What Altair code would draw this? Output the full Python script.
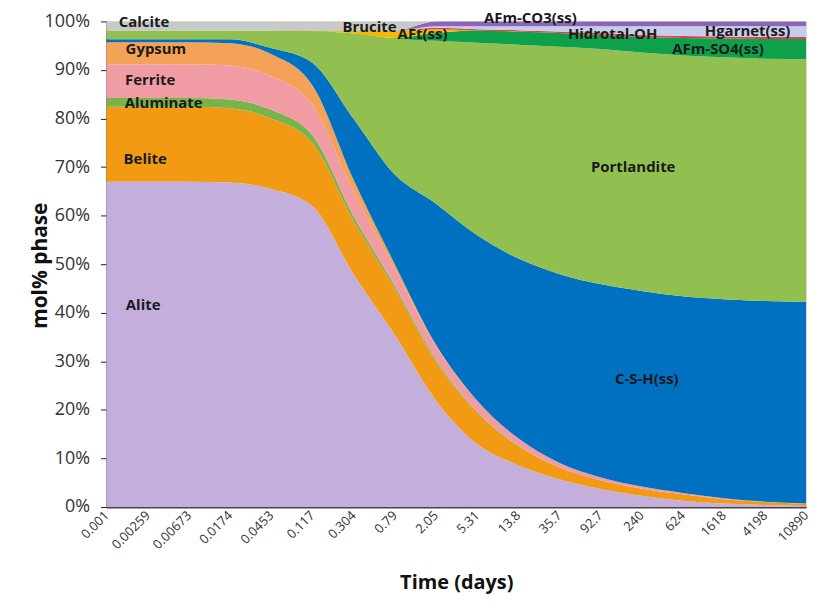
import altair as alt
import pandas as pd

times = ["0.001", "0.00259", "0.00673", "0.0174", "0.0453", "0.117", "0.304", "0.79", "2.05",
         "5.31", "13.8", "35.7", "92.7", "240", "624", "1618", "4198", "10890"]

# stacking order: bottom -> top
phases = ["Alite", "Belite", "Aluminate", "Ferrite", "Gypsum", "C-S-H(ss)", "Portlandite",
          "AFm-SO4(ss)", "AFt(ss)", "Hidrotal-OH", "Hgarnet(ss)", "Brucite", "AFm-CO3(ss)", "Calcite"]

alite = [67, 67, 67, 66.8, 65.5, 62, 48, 35.5, 22, 13, 8.6, 5.7, 3.7, 2.3, 1.3, 0.7, 0.4, 0.2]
belite = [15.4, 15.4, 15.4, 15.3, 14.5, 13, 11, 9.5, 8, 6.5, 4, 2.5, 1.8, 1.5, 1.3, 0.9, 0.6, 0.4]
aluminate = [1.8, 1.8, 1.8, 1.8, 1.8, 1.6, 1.0, 0.6, 0.4, 0.2, 0.1, 0, 0, 0, 0, 0, 0, 0]
ferrite = [7, 7, 7, 7, 6.9, 6.3, 5, 3.5, 2.8, 2.3, 1.5, 0.9, 0.6, 0.4, 0.3, 0.2, 0.1, 0.1]
gypsum = [4.5, 4.5, 4.5, 4.6, 4.6, 4.0, 2.5, 1.0, 0.3, 0, 0, 0, 0, 0, 0, 0, 0, 0]
csh = [0.6, 0.6, 0.6, 0.8, 1.2, 4.6, 12.5, 18.4, 29.0, 34.0, 37.0, 38.9, 39.8, 40.3, 40.5, 41.0, 41.3, 41.5]
portlandite = [1.8, 1.8, 1.8, 1.8, 3.6, 6.5, 17.5, 28.0, 33.5, 39.6, 44.0, 46.8, 48.4, 49.1, 49.6, 49.8, 49.9, 50.0]
afm_so4 = [0, 0, 0, 0, 0, 0, 0, 0.1, 1.6, 2.5, 2.7, 2.8, 2.9, 3.2, 3.6, 3.9, 4.1, 4.2]
aft = [0, 0, 0, 0, 0, 0, 0.4, 1.3, 0.8, 0, 0, 0, 0, 0, 0, 0, 0, 0]
hidrotal = [0, 0, 0, 0, 0, 0, 0, 0, 0.3, 0.3, 0.3, 0.3, 0.4, 0.4, 0.4, 0.4, 0.4, 0.4]
hgarnet = [0, 0, 0, 0, 0, 0, 0, 0, 0.3, 0.6, 0.8, 1.1, 1.4, 1.8, 2.0, 2.1, 2.2, 2.2]
brucite = [0, 0, 0, 0, 0, 0.1, 0.2, 0.2, 0, 0, 0, 0, 0, 0, 0, 0, 0, 0]
afm_co3 = [0, 0, 0, 0, 0, 0, 0, 0, 1.0, 1.0, 1.0, 1.0, 1.0, 1.0, 1.0, 1.0, 1.0, 1.0]
calcite = [1.9, 1.9, 1.9, 1.9, 1.9, 1.9, 1.9, 1.9, 0, 0, 0, 0, 0, 0, 0, 0, 0, 0]

series = [alite, belite, aluminate, ferrite, gypsum, csh, portlandite, afm_so4, aft,
          hidrotal, hgarnet, brucite, afm_co3, calcite]

colors = ["#C4AFDC", "#F29A14", "#79B44A", "#F19CA5", "#F4A257", "#0070C0", "#92C050",
          "#0FA04C", "#F5B800", "#E2414C", "#C6CDEA", "#A3A032", "#8E66B6", "#C9C9C9"]

# text labels
lab_text = ["Calcite", "Gypsum", "Ferrite", "Aluminate", "Belite", "Alite", "Brucite", "AFt(ss)",
            "AFm-CO3(ss)", "Hidrotal-OH", "Hgarnet(ss)", "AFm-SO4(ss)", "Portlandite", "C-S-H(ss)"]
lab_x = [0.91, 1.2, 1.06, 1.39, 0.94, 0.89, 6.39, 7.68, 10.3, 12.3, 15.58, 14.86, 12.8, 13.13]
lab_y = [0.998, 0.943, 0.879, 0.832, 0.717, 0.416, 0.988, 0.975, 1.006, 0.973, 0.98, 0.943, 0.701, 0.264]

rows = []
for k, (name, vals) in enumerate(zip(phases, series)):
    for i, v in enumerate(vals):
        rows.append({"phase": name, "ord": k, "t": i, "v": v})
df = pd.DataFrame(rows)

labels_df = pd.DataFrame({"label": lab_text, "lx": lab_x, "ly": lab_y})

arr = "[" + ",".join("'" + t + "'" for t in times) + "]"

xscale = alt.Scale(domain=[0, len(times) - 1], nice=False, zero=False)
yscale = alt.Scale(domain=[0, 1], nice=False)

area = alt.Chart(df).mark_area(interpolate="monotone").encode(
    x=alt.X("t:Q", scale=xscale,
            axis=alt.Axis(values=list(range(len(times))), labelExpr=arr + "[datum.value]",
                          labelAngle=315, labelAlign="right", labelBaseline="middle",
                          labelFont="Open Sans", labelFontSize=13, labelColor="#333333",
                          labelPadding=6, ticks=False, grid=False, labelOverlap=False,
                          domainColor="#444444", domainWidth=2,
                          title="Time (days)", titleFont="Open Sans", titleFontSize=20,
                          titleFontWeight="bold", titleColor="#111111",
                          titleY=76, titleBaseline="middle")),
    y=alt.Y("v:Q", stack="normalize", scale=yscale,
            axis=alt.Axis(values=[i / 20 for i in range(21)],
                          labelExpr="round(datum.value*100) % 10 == 0 ? round(datum.value*100) + '%' : ''",
                          labelFont="Open Sans", labelFontSize=18, labelColor="#333333",
                          tickColor="#222222", tickSize=6, domainColor="#222222", grid=False,
                          labelPadding=11,
                          title="mol% phase", titleFont="Open Sans", titleFontSize=21,
                          titleFontWeight="bold", titleColor="#111111",
                          titleX=-66, titleY=245, titleBaseline="middle")),
    color=alt.Color("phase:N", scale=alt.Scale(domain=phases, range=colors), legend=None),
    order=alt.Order("ord:Q", sort="ascending"),
)

text = alt.Chart(labels_df).mark_text(font="Open Sans", fontSize=15, fontWeight="bold",
                                      color="#1a1a1a").encode(
    x=alt.X("lx:Q", scale=xscale),
    y=alt.Y("ly:Q", scale=yscale),
    text="label:N",
)

chart = alt.layer(area, text).properties(
    width=703, height=488,
    padding={"left": 99, "top": 12, "right": 5, "bottom": 88},
    autosize=alt.AutoSizeParams(type="none"),
).configure_view(stroke=None).configure(background="white")

chart.save("out.html", embed_options={"renderer": "svg", "actions": False})
